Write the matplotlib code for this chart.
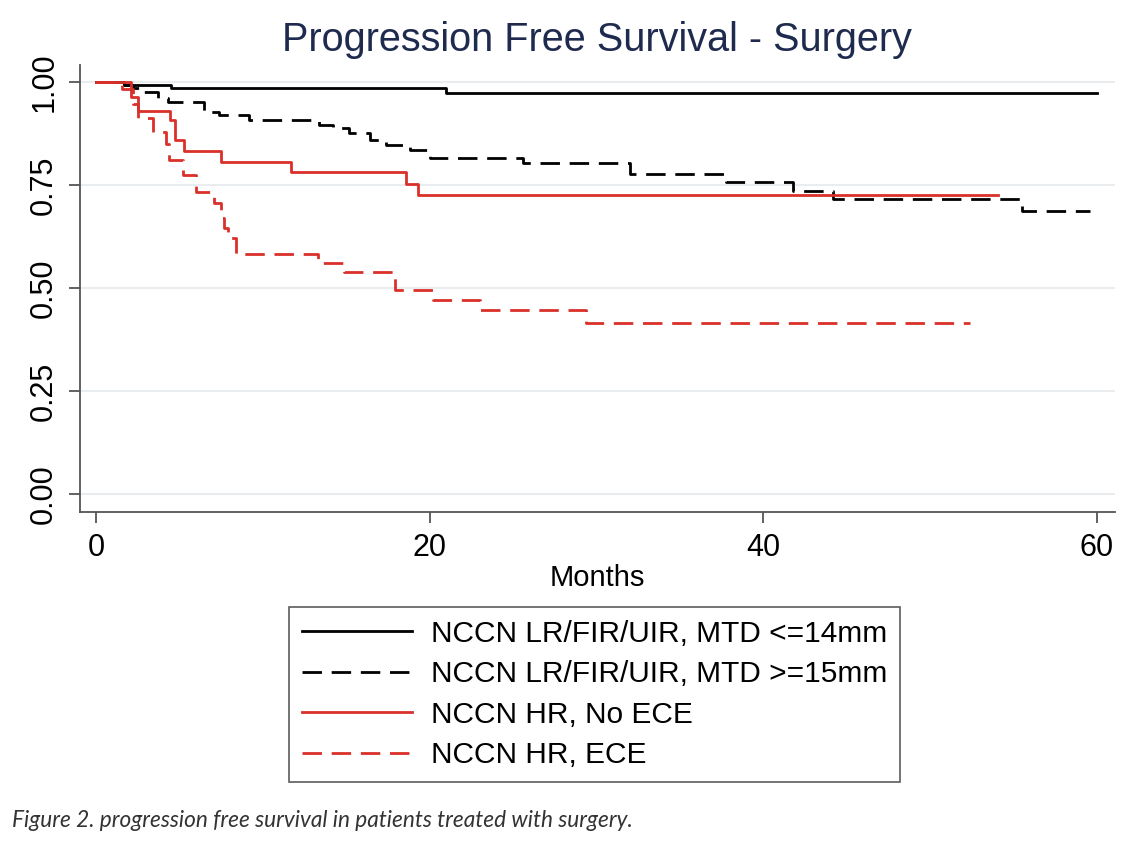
import numpy as np
import matplotlib
matplotlib.use('Agg')
import matplotlib.pyplot as plt

plt.rcParams['font.family'] = ['Liberation Sans', 'DejaVu Sans']
plt.rcParams['lines.scale_dashes'] = False

# Kaplan-Meier step data (months, survival)
t_small = [0, 1.7, 4.5, 21.0, 60.0]
s_small = [1.0, 0.993, 0.985, 0.973, 0.973]

t_large = [0, 1.7, 2.2, 2.8, 3.7, 4.3, 6.5, 7.4, 9.2, 13.4, 14.2, 15.2, 16.4,
           17.4, 18.8, 20.0, 25.6, 32.0, 37.8, 41.8, 44.2, 55.5, 59.6]
s_large = [1.0, 0.993, 0.985, 0.976, 0.961, 0.953, 0.928, 0.920, 0.908, 0.896,
           0.888, 0.877, 0.859, 0.847, 0.836, 0.817, 0.803, 0.776, 0.758, 0.737,
           0.717, 0.687, 0.687]

t_hr_noece = [0, 2.1, 2.5, 4.45, 4.75, 5.25, 7.5, 11.7, 18.6, 19.3, 54.1]
s_hr_noece = [1.0, 0.964, 0.930, 0.908, 0.859, 0.833, 0.807, 0.781, 0.754, 0.726, 0.726]

t_hr_ece = [0, 1.55, 2.2, 2.5, 3.4, 4.2, 4.4, 5.2, 6.0, 7.1, 7.5, 7.7, 7.9, 8.4,
            13.3, 14.9, 17.9, 20.2, 23.0, 29.4, 52.4]
s_hr_ece = [1.0, 0.983, 0.948, 0.912, 0.879, 0.850, 0.811, 0.774, 0.734, 0.706,
            0.670, 0.645, 0.621, 0.583, 0.561, 0.540, 0.495, 0.471, 0.447, 0.415, 0.415]

labels = ['NCCN LR/FIR/UIR, MTD <=14mm', 'NCCN LR/FIR/UIR, MTD >=15mm',
          'NCCN HR, No ECE', 'NCCN HR, ECE']

red = '#d9302a'
dash = (14, 7)

fig = plt.figure(figsize=(11.28, 8.46), dpi=100)
ax = fig.add_axes([0.0709, 0.3948, 0.9176, 0.5284])

for y in [0, 0.25, 0.5, 0.75, 1.0]:
    ax.axhline(y, color='#e9edf0', lw=1.5, zorder=0)

lw = 2.0
ax.step(t_small, s_small, where='post', color='black', lw=lw, label=labels[0])
ax.step(t_large, s_large, where='post', color='black', lw=lw, dashes=dash, label=labels[1])
ax.step(t_hr_noece, s_hr_noece, where='post', color=red, lw=lw, label=labels[2])
ax.step(t_hr_ece, s_hr_ece, where='post', color=red, lw=lw, dashes=dash, label=labels[3])

ax.set_xlim(-0.96, 61.1)
ax.set_ylim(-0.044, 1.042)
ax.set_xticks([0, 20, 40, 60])
ax.set_yticks([0, 0.25, 0.5, 0.75, 1.0])
ax.set_yticklabels(['0.00', '0.25', '0.50', '0.75', '1.00'], rotation=90, va='center')
ax.tick_params(axis='both', labelsize=22, length=8, width=1.3, color='#555555', pad=7)

for side in ['top', 'right']:
    ax.spines[side].set_visible(False)
for side in ['left', 'bottom']:
    ax.spines[side].set_color('#555555')
    ax.spines[side].set_linewidth(1.3)

ax.set_xlabel('Months', fontsize=21, labelpad=1)
fig.text(0.529, 0.953, 'Progression Free Survival - Surgery', ha='center', va='center',
         fontsize=28.5, color='#1e2b4e')

leg = fig.legend(loc='upper left', bbox_to_anchor=(0.2562, 0.2825), fontsize=21.5,
                 frameon=True, fancybox=False, edgecolor='#333333', handlelength=3.7,
                 labelspacing=0.42, handletextpad=0.65, borderpad=0.42, borderaxespad=0)
leg.get_frame().set_linewidth(1.2)

fig.text(0.011, 0.03, 'Figure 2. progression free survival in patients treated with surgery.',
         fontsize=16.3, style='italic', color='#333333', family=['Lato', 'DejaVu Sans'],
         va='center')

plt.savefig('out.png', dpi=100)
